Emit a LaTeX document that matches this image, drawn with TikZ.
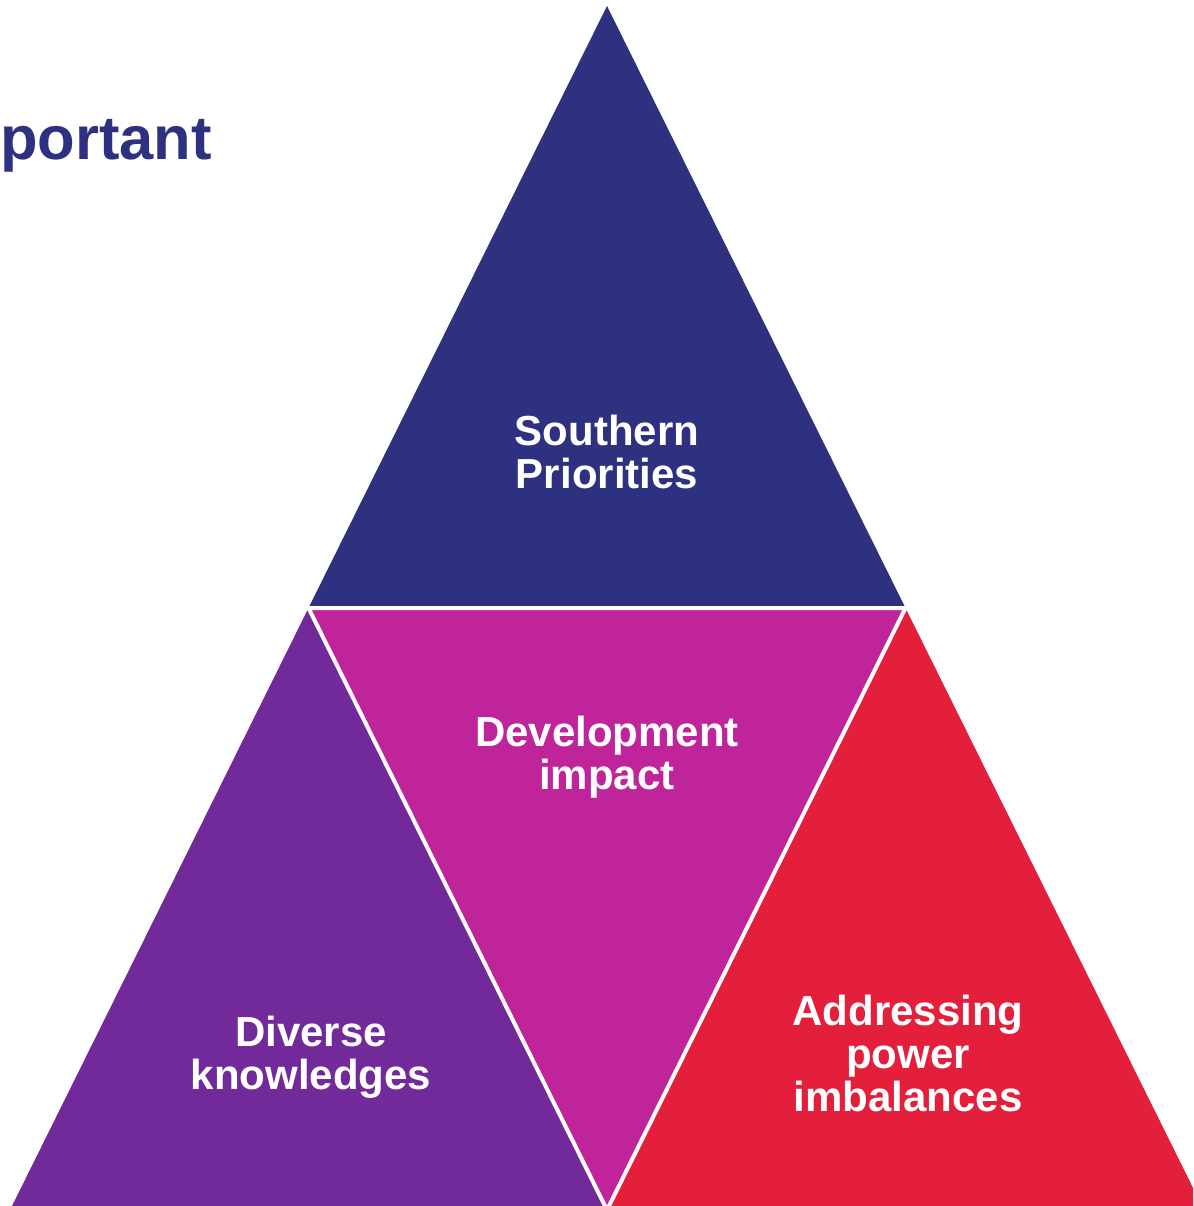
\documentclass[tikz,border=0pt]{standalone}
\usepackage{fontspec}
\setmainfont{Liberation Sans}
\definecolor{cblue}{HTML}{2E3080}
\definecolor{cmag}{HTML}{C0249A}
\definecolor{cpurp}{HTML}{722A9A}
\definecolor{cred}{HTML}{E31F3C}
\begin{document}
\begin{tikzpicture}[x=1pt,y=-1pt,
  lbl/.style={text=white,align=center,font=\fontsize{42}{43}\selectfont\bfseries,inner sep=0pt}]
\useasboundingbox (0,0) rectangle (1193,1206);
\coordinate (A) at (607,6);
\coordinate (L) at (10,1210);
\coordinate (R) at (1204,1210);
\coordinate (ML) at (308.5,608);
\coordinate (MR) at (905.5,608);
\coordinate (MB) at (607,1210);
\begin{scope}
\clip (0,0) rectangle (1193,1206);
\fill[cblue] (A) -- (ML) -- (MR) -- cycle;
\fill[cmag] (ML) -- (MR) -- (MB) -- cycle;
\fill[cpurp] (ML) -- (L) -- (MB) -- cycle;
\fill[cred] (MR) -- (MB) -- (R) -- cycle;
\draw[white,line width=4pt] (ML) -- (MR) -- (MB) -- cycle;
\end{scope}
\node[lbl] (s) at (607,452) {Southern\\Priorities};
\node[lbl] (d) at (607,757) {Development\\impact};
\node[lbl] (k) at (311,1057) {Diverse\\knowledges};
\node[lbl] (p) at (908,1053) {Addressing\\power\\imbalances};
\node[anchor=base east,inner sep=0pt,text=cblue,font=\fontsize{61.5}{68}\selectfont\bfseries] (t) at (212,160) {portant};
\end{tikzpicture}
\end{document}
